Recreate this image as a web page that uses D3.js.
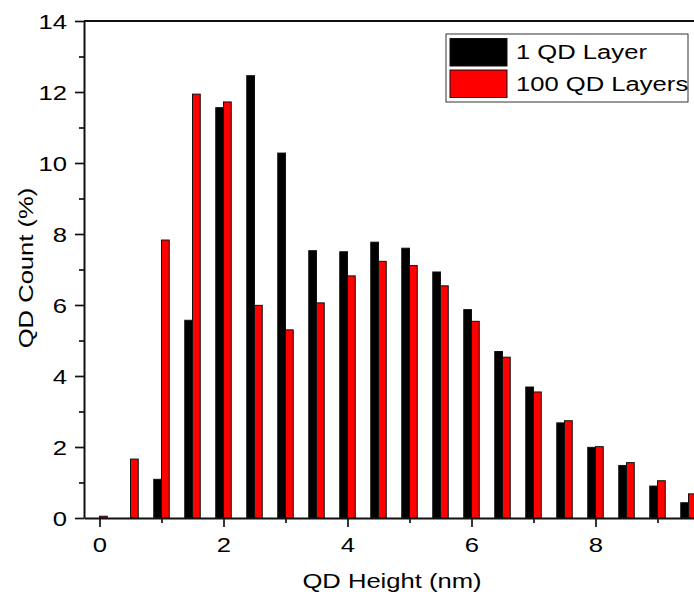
<!DOCTYPE html>
<html>
<head>
<meta charset="utf-8">
<script src="https://cdn.jsdelivr.net/npm/d3@7"></script>
<style>
  html, body { margin: 0; padding: 0; background: #fff; overflow: hidden; }
  svg { display: block; font-family: "Liberation Sans", Arial, sans-serif; }
</style>
</head>
<body>
<svg id="chart" width="694" height="597"></svg>
<script>
// QD height bins (nm)
const heights = [0, 0.5, 1, 1.5, 2, 2.5, 3, 3.5, 4, 4.5, 5, 5.5, 6, 6.5, 7, 7.5, 8, 8.5, 9, 9.5];
// QD count (%) per bin
const oneLayer      = [0, 0, 1.09, 5.57, 11.56, 12.46, 10.28, 7.53, 7.50, 7.77, 7.60, 6.93, 5.87, 4.69, 3.69, 2.68, 1.99, 1.48, 0.90, 0.43];
const hundredLayers = [0.05, 1.66, 7.83, 11.94, 11.72, 5.99, 5.30, 6.06, 6.82, 7.23, 7.11, 6.54, 5.54, 4.53, 3.55, 2.74, 2.01, 1.56, 1.05, 0.68];
const seriesNames  = ["1 QD Layer", "100 QD Layers"];
const seriesColors = ["#000000", "#ff0000"];
const yTickValues = [0, 1, 2, 3, 4, 5, 6, 7, 8, 9, 10, 11, 12, 13, 14];
const xTickValues = [0, 1, 2, 3, 4, 5, 6, 7, 8, 9];

const svg = d3.select("#chart");
const S = 1.22;          // horizontal widening of the glyphs
const FONT = 21;
const barW = 0.125;      // bar width in nm

const plotLeft = 84, plotTop = 21, plotBottom = 518, unit = 62;
const x = d3.scaleLinear().domain([-0.25, 10.25]).range([plotLeft, plotLeft + 10.5 * unit]);
const y = d3.scaleLinear().domain([0, 14]).range([plotBottom, plotTop]);

// bars: black on the left of each bin position, red on the right
const series = [oneLayer, hundredLayers];
series.forEach((vals, si) => {
  svg.append("g")
    .selectAll("rect")
    .data(heights.map((h, i) => ({ h, v: vals[i] })).filter(d => d.v > 0))
    .join("rect")
    .attr("x", d => si === 0 ? x(d.h - barW) : x(d.h))
    .attr("width", d => x(d.h + barW) - x(d.h))
    .attr("y", d => y(d.v))
    .attr("height", d => y(0) - y(d.v))
    .attr("fill", seriesColors[si])
    .attr("stroke", "#111")
    .attr("stroke-width", 1);
});

// x axis
const xAxis = svg.append("g")
  .attr("transform", `translate(0,${plotBottom})`)
  .call(d3.axisBottom(x).tickValues(xTickValues).tickSize(9).tickSizeOuter(0)
    .tickFormat(d => d % 2 === 0 ? d : ""));
xAxis.selectAll(".tick").filter(d => d % 2 !== 0).select("line").attr("y2", 5);
xAxis.selectAll("text")
  .attr("y", 34).attr("dy", 0)
  .attr("transform", `scale(${S},1)`)
  .style("font-size", FONT + "px").attr("fill", "#000");

// y axis
const yAxis = svg.append("g")
  .attr("transform", `translate(${plotLeft},0)`)
  .call(d3.axisLeft(y).tickValues(yTickValues).tickSize(9).tickSizeOuter(0)
    .tickFormat(d => d % 2 === 0 ? d : ""));
yAxis.selectAll(".tick").filter(d => d % 2 !== 0).select("line").attr("x2", -5);
yAxis.selectAll("text")
  .attr("x", -17 / S).attr("dy", "0.36em")
  .attr("transform", `scale(${S},1)`)
  .style("font-size", FONT + "px").attr("fill", "#000");

[xAxis, yAxis].forEach(a => {
  a.selectAll("path, line").attr("stroke", "#111").attr("stroke-width", 1.7);
  a.select(".domain").attr("stroke-width", 2);
});

// top frame line
svg.append("line")
  .attr("x1", plotLeft).attr("x2", x(10.25))
  .attr("y1", plotTop).attr("y2", plotTop)
  .attr("stroke", "#111").attr("stroke-width", 2);

// axis titles
svg.append("g")
  .attr("transform", `translate(392,588) scale(${S},1)`)
  .append("text")
  .attr("text-anchor", "middle")
  .style("font-size", FONT + "px")
  .text("QD Height (nm)");

svg.append("g")
  .attr("transform", `translate(33,268) rotate(-90) scale(${S},1)`)
  .append("text")
  .attr("text-anchor", "middle")
  .style("font-size", FONT + "px")
  .text("QD Count (%)");

// legend
const legend = svg.append("g");
legend.append("rect")
  .attr("x", 446).attr("y", 34).attr("width", 242).attr("height", 68)
  .attr("fill", "#fff").attr("stroke", "#333").attr("stroke-width", 1);
seriesNames.forEach((name, i) => {
  const yy = 38.5 + i * 31.5;
  legend.append("rect")
    .attr("x", 450).attr("y", yy).attr("width", 57).attr("height", 27.5)
    .attr("fill", seriesColors[i]).attr("stroke", "#111").attr("stroke-width", 1);
  legend.append("g")
    .attr("transform", `translate(516,${yy + 20.8}) scale(${S},1)`)
    .append("text")
    .style("font-size", FONT + "px")
    .text(name);
});
</script>
</body>
</html>
